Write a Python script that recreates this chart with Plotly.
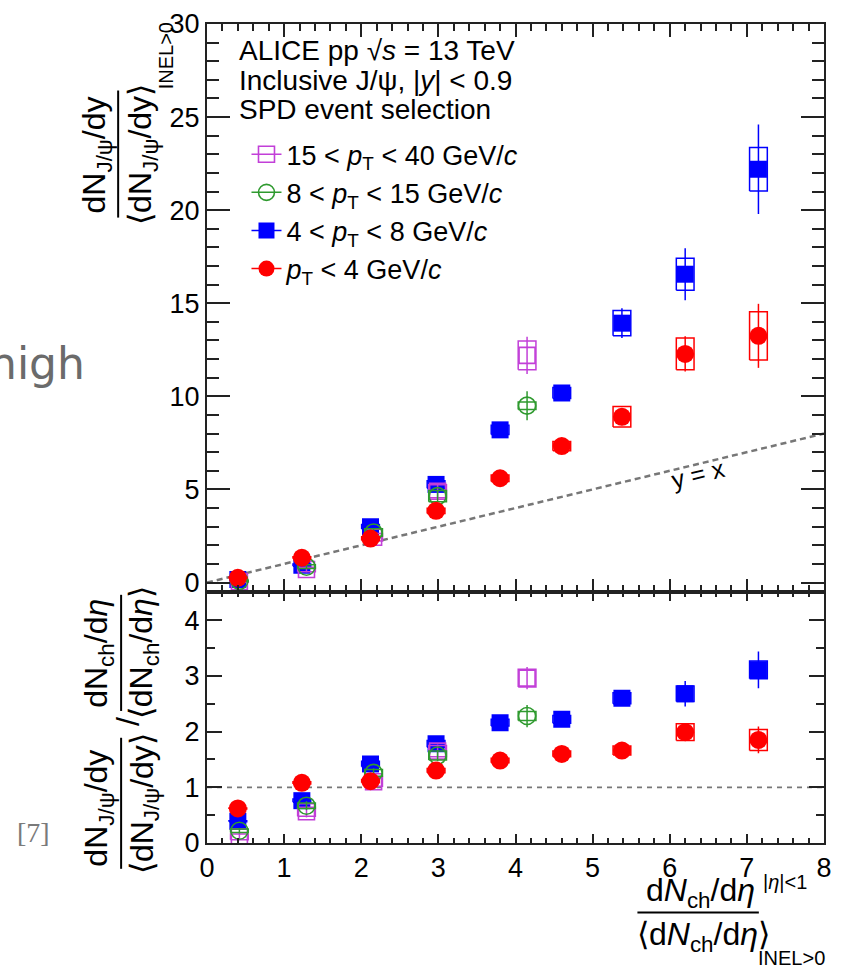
import plotly.graph_objects as go

# ---------------- canvas geometry ----------------
W, H = 841, 970
ML, MR, MT, MB = 207, 9, 18, 127
PW = W - ML - MR
PH = H - MT - MB
SPLIT = 0.306  # bottom (ratio) panel share of the plot height


def px(xp):
    return (xp - ML) / PW


def py(yp):
    return (H - MB - yp) / PH


# ---------------- data ----------------
# normalised multiplicity (x) for the two sets of classes
x_low = [0.40, 1.23, 2.12, 2.97, 3.80, 4.60, 5.38, 6.20, 7.15]
x_high = [0.42, 1.29, 2.16, 2.99, 4.15]

# normalised J/psi yields, upper panel
y_pt0_4 = [0.25, 1.33, 2.36, 3.85, 5.60, 7.33, 8.90, 12.28, 13.25]
stat_pt0_4 = [0.04, 0.06, 0.08, 0.10, 0.12, 0.18, 0.45, 0.95, 1.72]
sys_pt0_4 = [0.03, 0.06, 0.10, 0.14, 0.18, 0.25, 0.55, 0.85, 1.30]

y_pt4_8 = [0.16, 0.93, 3.00, 5.27, 8.20, 10.18, 13.93, 16.56, 22.20]
stat_pt4_8 = [0.04, 0.08, 0.12, 0.20, 0.25, 0.35, 0.80, 1.40, 2.40]
sys_pt4_8 = [0.02, 0.06, 0.12, 0.20, 0.25, 0.30, 0.68, 0.86, 1.17]

y_pt8_15 = [0.09, 0.85, 2.69, 4.64, 9.50]
stat_pt8_15 = [0.03, 0.12, 0.20, 0.30, 0.78]
sys_pt8_15 = [0.03, 0.10, 0.20, 0.30, 0.20]

y_pt15_40 = [0.05, 0.70, 2.43, 4.90, 12.20]
stat_pt15_40 = [0.03, 0.15, 0.25, 0.40, 1.00]
sys_pt15_40 = [0.03, 0.12, 0.20, 0.35, 0.77]

# yield / multiplicity ratio, lower panel
r_pt0_4 = [0.62, 1.08, 1.11, 1.30, 1.48, 1.60, 1.66, 1.99, 1.85]
rstat_pt0_4 = [0.01, 0.02, 0.03, 0.03, 0.03, 0.04, 0.06, 0.16, 0.24]
rsys_pt0_4 = [0.01, 0.02, 0.03, 0.04, 0.04, 0.05, 0.08, 0.15, 0.19]

r_pt4_8 = [0.39, 0.76, 1.42, 1.78, 2.16, 2.22, 2.60, 2.68, 3.11]
rstat_pt4_8 = [0.02, 0.04, 0.05, 0.06, 0.06, 0.07, 0.12, 0.23, 0.33]
rsys_pt4_8 = [0.01, 0.03, 0.05, 0.06, 0.06, 0.07, 0.10, 0.14, 0.16]

r_pt8_15 = [0.22, 0.67, 1.26, 1.57, 2.28]
rstat_pt8_15 = [0.05, 0.08, 0.08, 0.10, 0.20]
rsys_pt8_15 = [0.03, 0.05, 0.06, 0.08, 0.08]

r_pt15_40 = [0.11, 0.56, 1.10, 1.65, 2.96]
rstat_pt15_40 = [0.06, 0.10, 0.10, 0.12, 0.20]
rsys_pt15_40 = [0.05, 0.08, 0.08, 0.10, 0.16]

ref_line_x = [0, 8]

x_ticks = [0, 1, 2, 3, 4, 5, 6, 7, 8]

# ---------------- series styles ----------------
MAGENTA = "#c23fd8"
GREEN = "#2f9a2f"
BLUE = "#0000ff"
RED = "#ff0000"

series = [
    # name, x, y, stat, sys, ratio, rstat, rsys, color, symbol, size
    ("4 < <i>p</i><sub>T</sub> < 8 GeV/<i>c</i>", x_low, y_pt4_8, stat_pt4_8, sys_pt4_8,
     r_pt4_8, rstat_pt4_8, rsys_pt4_8, BLUE, "square", 17),
    ("15 < <i>p</i><sub>T</sub> < 40 GeV/<i>c</i>", x_high, y_pt15_40, stat_pt15_40, sys_pt15_40,
     r_pt15_40, rstat_pt15_40, rsys_pt15_40, MAGENTA, "square-open", 16),
    ("8 < <i>p</i><sub>T</sub> < 15 GeV/<i>c</i>", x_high, y_pt8_15, stat_pt8_15, sys_pt8_15,
     r_pt8_15, rstat_pt8_15, rsys_pt8_15, GREEN, "circle-open", 17),
    ("<i>p</i><sub>T</sub> < 4 GeV/<i>c</i>", x_low, y_pt0_4, stat_pt0_4, sys_pt0_4,
     r_pt0_4, rstat_pt0_4, rsys_pt0_4, RED, "circle", 18),
]
legend_order = [1, 2, 0, 3]

BOX_HALF = 0.115  # half width of the systematic boxes in x units


def box_path(xs, ys, es):
    bx, by = [], []
    for x, y, e in zip(xs, ys, es):
        bx += [x - BOX_HALF, x + BOX_HALF, x + BOX_HALF, x - BOX_HALF, x - BOX_HALF, None]
        by += [y - e, y - e, y + e, y + e, y - e, None]
    return bx, by


fig = go.Figure()

# reference lines
fig.add_trace(go.Scatter(x=ref_line_x, y=ref_line_x, mode="lines", xaxis="x", yaxis="y",
                         line=dict(color="#777777", width=2.5, dash="6px,4px"),
                         showlegend=False, hoverinfo="skip"))
fig.add_trace(go.Scatter(x=ref_line_x, y=[1, 1], mode="lines", xaxis="x2", yaxis="y2",
                         line=dict(color="#777777", width=1.8, dash="5px,5px"),
                         showlegend=False, hoverinfo="skip"))

for (name, xs, ys, st, sy, rs, rst, rsy, col, sym, size) in series:
    open_marker = sym.endswith("open")
    mk = dict(symbol=sym, size=size, color=col,
              line=dict(color=col, width=1.6 if open_marker else 0))
    for (yy, ee, ss, xa, ya) in [(ys, st, sy, "x", "y"), (rs, rst, rsy, "x2", "y2")]:
        bx, by = box_path(xs, yy, ss)
        fig.add_trace(go.Scatter(x=bx, y=by, mode="lines", xaxis=xa, yaxis=ya,
                                 line=dict(color=col, width=1.5),
                                 showlegend=False, hoverinfo="skip"))
        fig.add_trace(go.Scatter(x=xs, y=yy, mode="markers", xaxis=xa, yaxis=ya,
                                 marker=mk,
                                 error_y=dict(type="data", array=ee, color=col,
                                              thickness=1.5, width=0),
                                 showlegend=False))

# legend entries (marker with a horizontal bar through it)
for i in legend_order:
    name, xs, ys, st, sy, rs, rst, rsy, col, sym, size = series[i]
    open_marker = sym.endswith("open")
    fig.add_trace(go.Scatter(x=[None], y=[None], mode="lines+markers", name=name,
                             xaxis="x", yaxis="y",
                             line=dict(color=col, width=1.5),
                             marker=dict(symbol=sym, size=size, color=col,
                                         line=dict(color=col, width=1.6 if open_marker else 0))))

FRAME = "#222222"
TICKFONT = dict(family="Liberation Sans, Arial, sans-serif", size=27, color="black")

common = dict(showline=True, linecolor=FRAME, linewidth=2, mirror="ticks",
              ticks="inside", tickcolor=FRAME, tickwidth=1.5, showgrid=False,
              zeroline=False, tickfont=TICKFONT)

fig.update_layout(
    width=W, height=H,
    margin=dict(l=ML, r=MR, t=MT, b=MB),
    paper_bgcolor="white", plot_bgcolor="white",
    font=dict(family="Liberation Sans, Arial, sans-serif", color="black"),
    xaxis=dict(common, domain=[0, 1], anchor="y", range=[0, 8], tickvals=x_ticks,
               showticklabels=False, ticklen=13,
               minor=dict(dtick=0.2, ticklen=7, ticks="inside", tickcolor=FRAME, tickwidth=1.5)),
    yaxis=dict(common, domain=[SPLIT, 1], anchor="x", range=[-0.53, 30], dtick=5,
               ticklen=23,
               minor=dict(dtick=1, ticklen=12, ticks="inside", tickcolor=FRAME, tickwidth=1.5)),
    xaxis2=dict(common, domain=[0, 1], anchor="y2", range=[0, 8], tickvals=x_ticks,
                ticklen=9, matches="x",
                minor=dict(dtick=0.2, ticklen=5, ticks="inside", tickcolor=FRAME, tickwidth=1.5)),
    yaxis2=dict(common, domain=[0, SPLIT], anchor="x2", range=[0, 4.5], dtick=1,
                ticklen=15,
                minor=dict(dtick=0.5, ticklen=8, ticks="inside", tickcolor=FRAME, tickwidth=1.5)),
    legend=dict(x=px(247), y=py(125), xanchor="left", yanchor="top",
                bgcolor="rgba(0,0,0,0)", borderwidth=0,
                font=dict(family="Liberation Sans, Arial, sans-serif", size=27, color="black"),
                itemsizing="trace", tracegroupgap=0),
)

ann = []


def text(xp, yp, s, size, angle=0, xanchor="center", yanchor="middle", color="black",
         family="Liberation Sans, Arial, sans-serif"):
    ann.append(dict(x=px(xp), y=py(yp), xref="paper", yref="paper", text=s, showarrow=False,
                    textangle=angle, xanchor=xanchor, yanchor=yanchor,
                    font=dict(size=size, color=color, family=family)))


# header text inside the upper panel
text(237, 45, "ALICE pp √<i>s</i> = 13 TeV", 28, xanchor="left")
text(237, 75, "Inclusive J/ψ, |<i>y</i>| < 0.9", 28, xanchor="left")
text(237, 104, "SPD event selection", 28, xanchor="left")

# y = x label along the dashed line
ann.append(dict(x=6.36, y=5.85, xref="x", yref="y", text="y = x", showarrow=False,
                textangle=-13.5, font=dict(size=25, color="black")))

TF = 32  # title font size
SUB = 20

# upper y title: fraction
text(95, 150, "dN<sub>J/ψ</sub>/dy", TF, angle=-90)
text(141, 149, "⟨dN<sub>J/ψ</sub>/dy⟩", TF, angle=-90)
text(165, 50, "INEL>0", SUB, angle=-90)

# lower y title: ratio of two fractions
text(97, 808, "dN<sub>J/ψ</sub>/dy", TF, angle=-90)
text(143, 803, "⟨dN<sub>J/ψ</sub>/dy⟩", TF, angle=-90)
text(127, 721, "/", TF, angle=-90)
text(97, 652, "dN<sub>ch</sub>/d<i>η</i>", TF, angle=-90)
text(143, 651, "⟨dN<sub>ch</sub>/d<i>η</i>⟩", TF, angle=-90)

# x title
text(707, 893, "d<i>N</i><sub>ch</sub>/d<i>η</i>", TF)
text(710, 937, "⟨d<i>N</i><sub>ch</sub>/d<i>η</i>⟩", TF)
text(792, 882, "|<i>η</i>|<1", SUB)
text(799, 959, "INEL>0", SUB)

# surrounding page text
text(85, 360, "high", 44, xanchor="right", color="#6b6b6b", family="DejaVu Sans, sans-serif")
text(31, 832, "[7]", 28, color="#7a7a7a", family="Liberation Serif, serif")

fig.update_layout(annotations=ann)

# fraction bars of the axis titles
bars = [
    (117, 85, 117, 213),
    (120, 737, 120, 869),
    (120, 593, 120, 710),
    (643, 913, 766, 913),
]
fig.update_layout(shapes=[dict(type="line", xref="paper", yref="paper",
                               x0=px(a), y0=py(b), x1=px(c), y1=py(d),
                               line=dict(color="black", width=2)) for a, b, c, d in bars])

fig.write_html("out.html")
